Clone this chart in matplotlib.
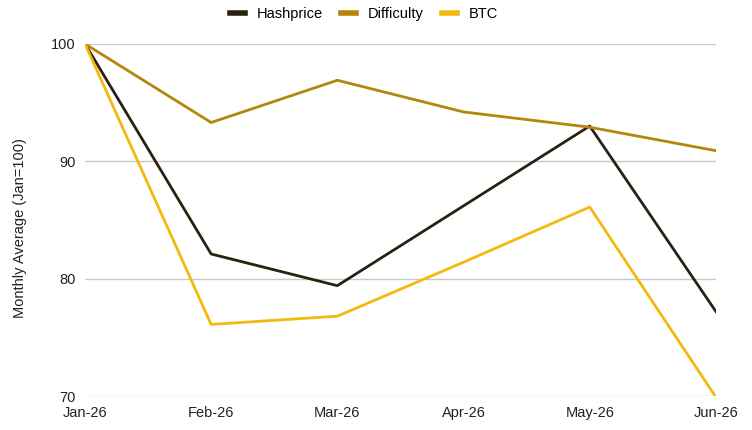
import matplotlib
matplotlib.use('Agg')
import matplotlib.pyplot as plt

plt.rcParams['font.family'] = ['Liberation Sans', 'DejaVu Sans']

# monthly averages, indexed Jan=100
months = ['Jan-26', 'Feb-26', 'Mar-26', 'Apr-26', 'May-26', 'Jun-26']
hashprice = [100, 82.1, 79.4, 86.2, 93.0, 77.2]
difficulty = [100, 93.3, 96.9, 94.2, 92.9, 90.9]
btc = [100, 76.1, 76.8, 81.4, 86.1, 69.9]

fig = plt.figure(figsize=(7.52, 4.3), dpi=100)
ax = fig.add_axes([0.113, 0.079, 0.839, 0.819])

x = range(len(months))
ax.plot(x, hashprice, color='#2b2111', lw=2, label='Hashprice')
ax.plot(x, difficulty, color='#b5860b', lw=2, label='Difficulty')
ax.plot(x, btc, color='#f2b90f', lw=2, label='BTC')

ax.set_xlim(0, 5)
ax.set_ylim(70, 100)
ax.set_yticks([70, 80, 90, 100])
ax.set_xticks(list(x))
ax.set_xticklabels(months)
ax.grid(axis='y', color='#c8c8c8', lw=1)
ax.set_axisbelow(True)
for s in ax.spines.values():
    s.set_visible(False)
ax.tick_params(length=0, labelsize=10.5, colors='#222222')
ax.tick_params(axis='y', pad=7)
ax.tick_params(axis='x', pad=7)
ax.set_ylabel('Monthly Average (Jan=100)', fontsize=10.5, color='#222222')
ax.yaxis.set_label_coords(-0.092, 0.477)

leg = fig.legend(loc='upper center', bbox_to_anchor=(0.484, 1.015), ncol=3, frameon=False,
                 fontsize=10.5, handlelength=1.0, handletextpad=0.8, columnspacing=1.3)
for h in leg.get_lines():
    h.set_linewidth(4)

fig.savefig('out.png', dpi=100)
